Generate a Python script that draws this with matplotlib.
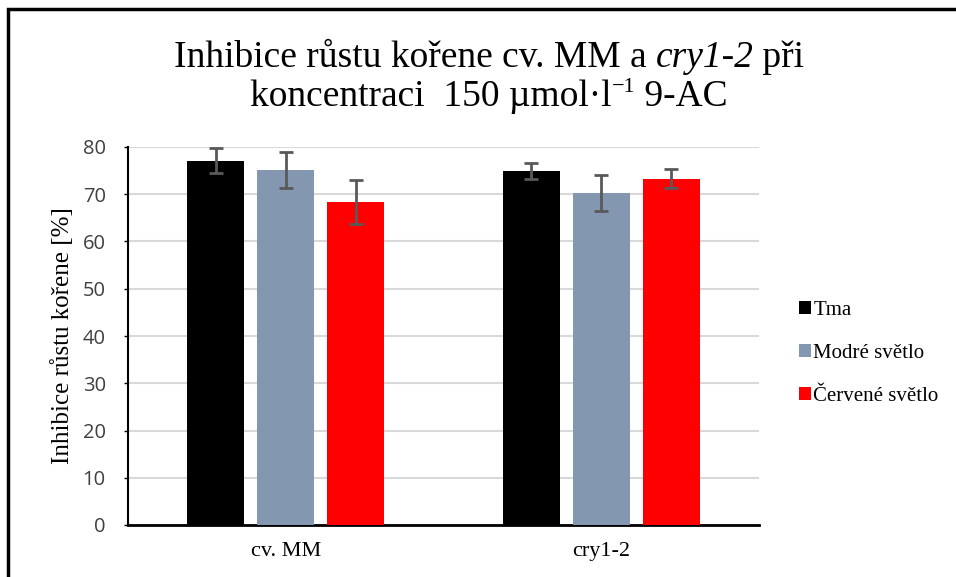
import matplotlib
matplotlib.use("Agg")
import matplotlib.pyplot as plt
from matplotlib.patches import Rectangle
import numpy as np

categories = ["cv. MM", "cry1-2"]
series_names = ["Tma", "Modré světlo", "Červené světlo"]
values = {
    "Tma": [77.1, 74.9],
    "Modré světlo": [75.1, 70.3],
    "Červené světlo": [68.4, 73.3],
}
errors = {
    "Tma": [2.7, 1.7],
    "Modré světlo": [3.8, 3.85],
    "Červené světlo": [4.6, 1.95],
}
colors = ["#000000", "#8497B0", "#FF0000"]
yticks = [0, 10, 20, 30, 40, 50, 60, 70, 80]

W, H = 956, 577
fig = plt.figure(figsize=(W / 100, H / 100), dpi=100)
ax = fig.add_axes([128 / W, 1 - 525 / H, (759 - 128) / W, (525 - 147) / H])

x = np.arange(len(categories))
bw = 0.18
step = 0.222
for i, name in enumerate(series_names):
    pos = x + (i - 1) * step
    ax.bar(pos, values[name], width=bw, color=colors[i], label=name, zorder=3)
    ax.errorbar(pos, values[name], yerr=errors[name], fmt='none', ecolor='#595959',
                elinewidth=2, capsize=5, capthick=2, zorder=4)

ax.set_xlim(-0.5, 1.5)
ax.set_ylim(0, 80)
ax.set_yticks(yticks)
ax.set_yticklabels([str(t) for t in yticks], fontfamily='Open Sans', fontsize=14.5, color='#404040')
ax.set_xticks(x)
ax.set_xticklabels(categories, fontfamily='Liberation Serif', fontsize=16)
ax.tick_params(axis='x', length=0, pad=12)
ax.tick_params(axis='y', length=3, width=1, direction='out', pad=13)
ax.yaxis.grid(True, color='#D9D9D9', linewidth=1.5, zorder=0)
ax.set_axisbelow(True)
for s in ['top', 'right']:
    ax.spines[s].set_visible(False)
ax.spines['left'].set_linewidth(1.5)
ax.spines['bottom'].set_linewidth(2)
ax.set_ylabel("Inhibice růstu kořene [%]", fontfamily='Liberation Serif', fontsize=18, labelpad=6)

leg = fig.legend(loc='upper left', bbox_to_anchor=(780 / W, 1 - 282 / H), frameon=False,
                 prop={'family': 'Liberation Serif', 'size': 15}, handlelength=0.6,
                 handleheight=0.6, handletextpad=0.1, labelspacing=1.15)

fig.canvas.draw()
renderer = fig.canvas.get_renderer()


def place_line(parts, cx, ybase):
    texts, widths = [], []
    for s, st, fs, dy in parts:
        t = fig.text(0, 0, s, fontfamily='Liberation Serif', fontsize=fs, fontstyle=st, va='baseline')
        bb = t.get_window_extent(renderer)
        texts.append((t, dy))
        widths.append(bb.width)
    xs = cx - sum(widths) / 2
    for (t, dy), w in zip(texts, widths):
        t.set_position((xs / W, 1 - (ybase - dy) / H))
        xs += w


fs_t = 27
place_line([("Inhibice růstu kořene cv. MM a ", 'normal', fs_t, 0),
            ("cry1-2", 'italic', fs_t, 0),
            (" při", 'normal', fs_t, 0)], 489, 67)
place_line([("koncentraci  150 µmol·l", 'normal', fs_t, 0),
            ("−1", 'normal', 16, 14),
            (" 9-AC", 'normal', fs_t, 0)], 489, 106)

# outer border
fig.patches.append(Rectangle((8 / W, -0.1), 1.2, 1 - 9 / H + 0.1, transform=fig.transFigure,
                             fill=False, edgecolor='black', linewidth=2.5))

fig.savefig("out.png", dpi=100)
